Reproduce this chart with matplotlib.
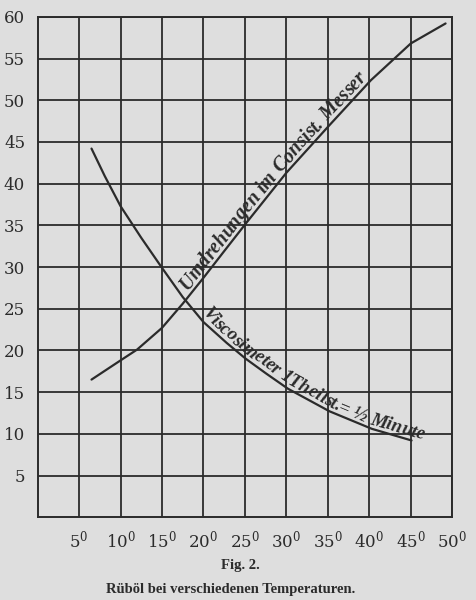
import numpy as np
import matplotlib
matplotlib.use("Agg")
import matplotlib.pyplot as plt

# ---- data ----
x_ticks = [5, 10, 15, 20, 25, 30, 35, 40, 45, 50]
x_tick_labels = [f"{v}$^{{0}}$" for v in x_ticks]
y_ticks = [5, 10, 15, 20, 25, 30, 35, 40, 45, 50, 55, 60]
y_tick_labels = [str(v) for v in y_ticks]

visc_temp = [6.5, 8.1, 10.0, 12.5, 15.0, 17.5, 20.0, 22.8, 25.1, 27.6, 30.2, 35.2, 40.3, 45.1]
visc_val = [44.2, 40.9, 37.3, 33.5, 29.9, 26.4, 23.4, 20.9, 19.0, 17.2, 15.4, 12.7, 10.6, 9.2]

umdr_temp = [6.5, 10.0, 12.0, 15.0, 17.5, 20.0, 22.5, 25.1, 30.0, 35.1, 40.2, 45.0, 49.2]
umdr_val = [16.5, 18.8, 20.1, 22.7, 25.6, 28.7, 31.9, 35.2, 41.3, 46.9, 52.4, 56.8, 59.2]

umdr_label = "Umdrehungen im Consist. Messer"
umdr_label_start = 18.5
visc_label = "Viscosimeter 1Theilst.= ½ Minute"
visc_label_start = 19.4

title_fig = "Fig. 2."
caption = "Rüböl bei verschiedenen Temperaturen."

bg = "#dedede"
ink = "#2b2b2b"

plt.rcParams["mathtext.fontset"] = "dejavuserif"

fig = plt.figure(figsize=(4.76, 6.0), dpi=100, facecolor=bg)
ax = fig.add_axes([0.079, 0.138, 0.871, 0.834])
ax.set_facecolor(bg)
ax.set_xlim(0, 50)
ax.set_ylim(0, 60)

ax.set_xticks(x_ticks)
ax.set_xticklabels(x_tick_labels, fontfamily="DejaVu Serif", fontsize=12, color=ink)
ax.set_yticks(y_ticks)
ax.set_yticklabels(y_tick_labels, fontfamily="DejaVu Serif", fontsize=12, color=ink)
ax.tick_params(length=0, pad=9)
ax.grid(True, color=ink, linewidth=1.3)
ax.set_axisbelow(True)
for s in ax.spines.values():
    s.set_color(ink)
    s.set_linewidth(1.4)

ax.plot(visc_temp, visc_val, color=ink, linewidth=1.6, solid_capstyle="round",
        solid_joinstyle="round")
ax.plot(umdr_temp, umdr_val, color=ink, linewidth=1.6, solid_capstyle="round",
        solid_joinstyle="round")

fig.canvas.draw()
renderer = fig.canvas.get_renderer()

base_font = dict(family="Liberation Serif", style="italic", fontweight="bold", color=ink)


def text_width(s, size):
    t = ax.text(0, 0, s + "|", transform=None, fontsize=size, **base_font)
    w = t.get_window_extent(renderer).width
    t.remove()
    t = ax.text(0, 0, "|", transform=None, fontsize=size, **base_font)
    w -= t.get_window_extent(renderer).width
    t.remove()
    return w


def curve_text(xs, ys, label, x_start, size, lift=4.0):
    pts = ax.transData.transform(np.column_stack([xs, ys]))
    seg = np.diff(pts, axis=0)
    seglen = np.hypot(seg[:, 0], seg[:, 1])
    cum = np.concatenate([[0], np.cumsum(seglen)])
    p_start = ax.transData.transform((x_start, np.interp(x_start, xs, ys)))
    i0 = np.searchsorted(pts[:, 0], p_start[0]) - 1
    i0 = max(0, min(i0, len(seg) - 1))
    s0 = cum[i0] + np.hypot(*(p_start - pts[i0]))

    def at(s):
        i = np.searchsorted(cum, s) - 1
        i = max(0, min(i, len(seg) - 1))
        d = seg[i] / seglen[i]
        p = pts[i] + d * (s - cum[i])
        return p, d

    inv = ax.transData.inverted()
    prev = 0.0
    for k, ch in enumerate(label):
        w = text_width(label[:k + 1], size)
        if ch.strip():
            mid = s0 + (prev + w) / 2
            p, d = at(mid)
            nrm = np.array([-d[1], d[0]])
            p = p + nrm * lift
            ang = np.degrees(np.arctan2(d[1], d[0]))
            xd, yd = inv.transform(p)
            ax.text(xd, yd, ch, rotation=ang, rotation_mode="anchor",
                    ha="center", va="baseline", clip_on=False,
                    fontsize=size, **base_font)
        prev = w


curve_text(umdr_temp, umdr_val, umdr_label, umdr_label_start, 14.2)
curve_text(visc_temp, visc_val, visc_label, visc_label_start, 13.5)

fig.text(0.504, 0.058, title_fig, ha="center", va="center",
         fontfamily="Liberation Serif", fontweight="bold", fontsize=10.5, color=ink)
fig.text(0.484, 0.017, caption, ha="center", va="center",
         fontfamily="Liberation Serif", fontweight="bold", fontsize=10.5, color=ink)

fig.savefig("out.png", dpi=100, facecolor=bg)
